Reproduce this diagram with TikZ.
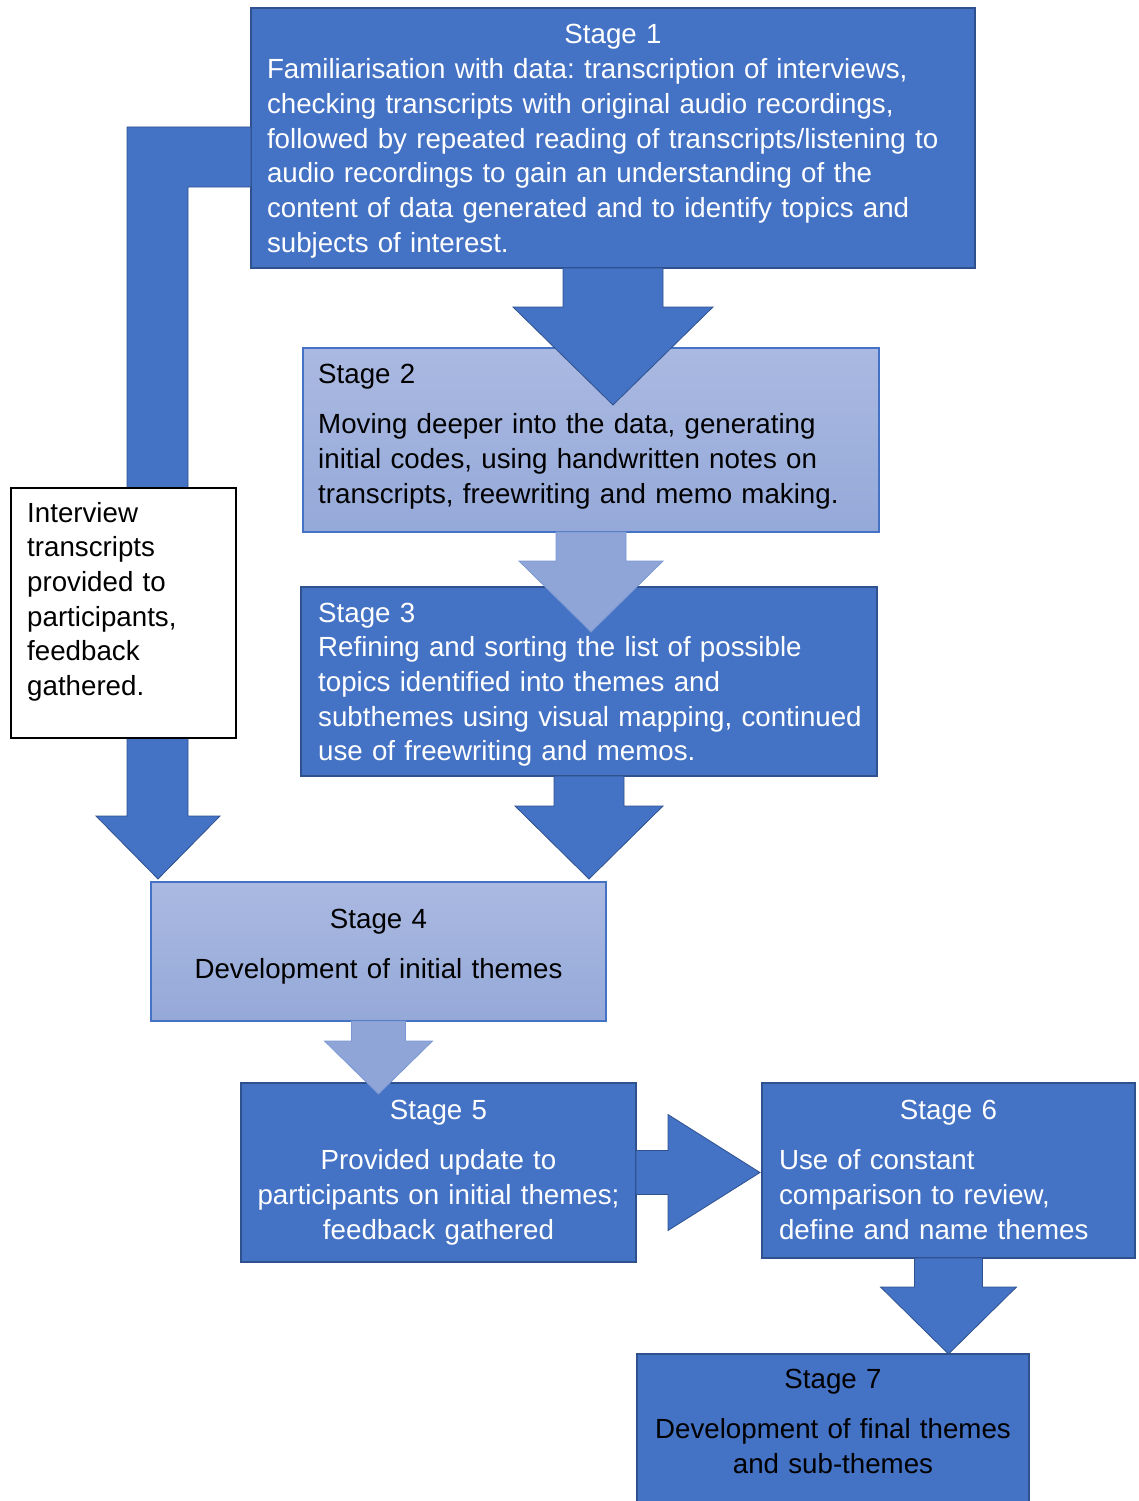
\documentclass[tikz,border=0pt]{standalone}
\usepackage{fontspec}
\setmainfont{Liberation Sans}
\usetikzlibrary{calc}
\frenchspacing
\definecolor{stageblue}{HTML}{4472C4}
\definecolor{edgeblue}{HTML}{2F528F}
\definecolor{paletop}{HTML}{AAB9E1}
\definecolor{palebot}{HTML}{95A9D9}
\definecolor{palefill}{HTML}{8FA5D8}
\tikzset{
  box/.style={anchor=north west, inner sep=0pt, outer sep=0pt, line width=1.2pt},
  darkbox/.style={box, draw=edgeblue, fill=stageblue},
  palebox/.style={box, draw=stageblue, top color=paletop, bottom color=palebot},
  notebox/.style={box, draw=black, fill=white},
  darkarrow/.style={fill=stageblue, draw=edgeblue, line width=0.8pt},
  palearrow/.style={fill=palefill, draw=palefill!75!stageblue, line width=0.8pt},
  txt/.style={inner sep=0pt, font=\fontsize{27.7}{34.7}\selectfont}
}
\begin{document}
\begin{tikzpicture}[x=1pt, y=-1pt, line join=miter]
\useasboundingbox (0,0) rectangle (1139,1501);
\node[darkbox, minimum width=724, minimum height=260] (s1) at (251,8) {};
\node[palebox, minimum width=576, minimum height=184] (s2) at (303,348) {};
\node[darkbox, minimum width=576, minimum height=189] (s3) at (301,587) {};
\node[palebox, minimum width=455, minimum height=139] (s4) at (151,882) {};
\node[darkbox, minimum width=395, minimum height=179] (s5) at (241,1083) {};
\node[darkbox, minimum width=373, minimum height=175] (s6) at (762,1083) {};
\node[darkbox, minimum width=392, minimum height=152] (s7) at (637,1354) {};
% feedback loop round the left side
\coordinate (lt) at ($(s4.north west)+(7,-3)$);
\coordinate (lb) at ($(s1.north west)+(0,119)$);
\draw[darkarrow] (lb) -- ($(lb -| lt)+(-31,0)$) -- ($(lt)+(-31,-63)$) -- ($(lt)+(-62,-63)$) -- (lt)
  -- ($(lt)+(62,-63)$) -- ($(lt)+(30,-63)$) -- ($(lb -| lt)+(30,60)$) -- ($(lb)+(0,60)$) -- cycle;
\node[notebox, minimum width=225, minimum height=250] (note) at (11,488) {};
\foreach \a/\b/\w/\h/\l/\o/\st in {s1/s2/50/100/39/57/darkarrow, s2/s3/35/72/29/45/palearrow,
  s3/s4/35/74/30/-3/darkarrow, s4/s5/27/54/20/11/palearrow, s6/s7/34/68/29/0/darkarrow}{
  \draw[\st] ($(\a.south)+(-\w,0)$) -- ($(\a.south)+(-\w,\l)$) -- ($(\a.south)+(-\h,\l)$)
    -- ($(\a.south |- \b.north)+(0,\o)$) -- ($(\a.south)+(\h,\l)$) -- ($(\a.south)+(\w,\l)$)
    -- ($(\a.south)+(\w,0)$) -- cycle;
}
\draw[darkarrow] ($(s5.east)+(0,-22)$) -- ++(32,0) -- ++(0,-36) -- ($(s5.east -| s6.west)+(-2,0)$)
  -- ($(s5.east)+(32,58)$) -- ++(0,-36) -- ($(s5.east)+(0,22)$) -- cycle;
\node[txt, white, anchor=base, text width=692, align=left] (t1) at ($(s1.north)+(0,36)$)
  {\makebox[\linewidth]{Stage 1}\\Familiarisation with data: transcription of interviews,\\
   checking transcripts with original audio recordings,\\
   followed by repeated reading of transcripts/listening to\\
   audio recordings to gain an understanding of the\\
   content of data generated and to identify topics and\\
   subjects of interest.};
\node[txt, anchor=base west, text width=560, align=left] (t2) at ($(s2.north west)+(15,35)$)
  {Stage 2\\[16pt]Moving deeper into the data, generating\\initial codes, using handwritten notes on\\
   transcripts, freewriting and memo making.};
\node[txt, white, anchor=base west, text width=570, align=left] (t3) at ($(s3.north west)+(17,35)$)
  {Stage 3\\Refining and sorting the list of possible\\topics identified into themes and\\
   subthemes using visual mapping, continued\\use of freewriting and memos.};
\node[txt, anchor=base, text width=445, align=center] (t4) at ($(s4.north)+(0,46)$)
  {Stage 4\\[16pt]Development of initial themes};
\node[txt, white, anchor=base, text width=390, align=center] (t5) at ($(s5.north)+(0,36)$)
  {Stage 5\\[16pt]Provided update to\\participants on initial themes;\\feedback gathered};
\node[txt, white, anchor=base, text width=339, align=left] (t6) at ($(s6.north)+(0,36)$)
  {\makebox[\linewidth]{Stage 6}\\[16pt]Use of constant\\comparison to review,\\define and name themes};
\node[txt, anchor=base, text width=385, align=center] (t7) at ($(s7.north)+(0,34)$)
  {Stage 7\\[16pt]Development of final themes\\and sub-themes};
\node[txt, anchor=base west, text width=210, align=left] (tn) at ($(note.north west)+(16,34)$)
  {Interview\\transcripts\\provided to\\participants,\\feedback\\gathered.};
\end{tikzpicture}
\end{document}
